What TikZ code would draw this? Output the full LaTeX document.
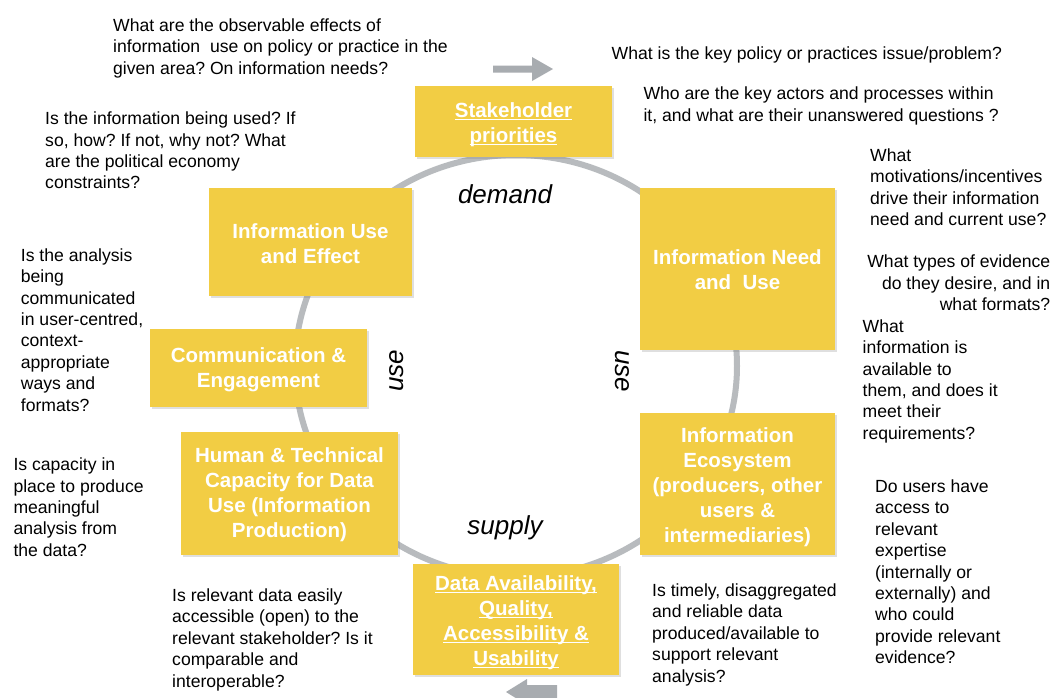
\documentclass[tikz,border=0pt]{standalone}
\usepackage{fontspec}
\setmainfont{Liberation Sans}
\usetikzlibrary{shadows}
\frenchspacing
\newcommand{\myul}[1]{\leavevmode\setbox0\hbox{#1}\rlap{\rule[-3pt]{\wd0}{1.3pt}}\box0}
\definecolor{boxyellow}{RGB}{242,205,68}
\definecolor{ringgray}{RGB}{184,187,190}
\definecolor{arrowgray}{RGB}{168,172,176}
\tikzset{
  box/.style={fill=boxyellow, draw=none, inner sep=0pt,
    drop shadow={opacity=0.25, shadow xshift=1.5pt, shadow yshift=-2pt}},
  boxtext/.style={text=white, align=center, inner sep=0pt,
    font=\bfseries\fontsize{20.5}{25}\selectfont},
  qtext/.style={anchor=north west, align=left, inner sep=0pt, text=black,
    font=\fontsize{17.6}{21.4}\selectfont},
  qtextr/.style={anchor=north east, align=right, inner sep=0pt, text=black,
    font=\fontsize{17.6}{21.4}\selectfont},
  flowlabel/.style={inner sep=0pt, font=\itshape\fontsize{26}{30}\selectfont},
  ring/.style={draw=ringgray, line width=6pt},
  bigarrow/.style={fill=arrowgray, draw=none}
}
\begin{document}
\begin{tikzpicture}[x=1pt,y=-1pt]
\useasboundingbox (0,0) rectangle (1053,697);
\clip (0,0) rectangle (1053,697);
\fill[white] (0,0) rectangle (1053,697);

% ring
\draw[ring] (516,366) ellipse [x radius=221pt, y radius=211pt];

% arrows
\fill[bigarrow] (493,65.5) -- (532,65.5) -- (532,57) -- (553,69) -- (532,81) -- (532,72.5) -- (493,72.5) -- cycle;
\fill[bigarrow] (557,685) -- (527,685) -- (527,679) -- (506,692) -- (527,705) -- (527,699) -- (557,699) -- cycle;

% boxes
\node[box, minimum width=197pt, minimum height=71pt] (stake) at (513.5,121.5) {};
\node[boxtext] (staket) at (513.5,124.5) {\myul{Stakeholder}\\\myul{priorities}};
\node[box, minimum width=203pt, minimum height=108pt] (infouse) at (310.5,242) {};
\node[boxtext] (infouset) at (310.5,243.5) {Information Use\\and Effect};
\node[box, minimum width=195pt, minimum height=162pt] (infoneed) at (737.5,269) {};
\node[boxtext] (infoneedt) at (737.5,269.5) {Information Need\\and~ Use};
\node[box, minimum width=217pt, minimum height=78pt] (comm) at (258.5,368) {};
\node[boxtext] (commt) at (258.5,370) {Communication \&\\Engagement};
\node[box, minimum width=217pt, minimum height=123pt] (human) at (289.5,493.5) {};
\node[boxtext] (humant) at (289.5,494.5) {Human \& Technical\\Capacity for Data\\Use (Information\\Production)};
\node[box, minimum width=195pt, minimum height=142pt] (eco) at (737.5,484) {};
\node[boxtext] (ecot) at (737.5,487) {Information\\Ecosystem\\(producers, other\\users \&\\intermediaries)};
\node[box, minimum width=206pt, minimum height=111pt] (data) at (516,619.5) {};
\node[boxtext] (datat) at (516,622.5) {\myul{Data Availability,}\\\myul{Quality,}\\\myul{Accessibility \&}\\\myul{Usability}};

% flow labels
\node[flowlabel, anchor=base] (demand) at (505,203) {demand};
\node[flowlabel, anchor=base] (supply) at (505,534) {supply};
\node[flowlabel, rotate=90] (useL) at (396.5,371) {use};
\node[flowlabel, rotate=-90] (useR) at (622.5,371) {use};

% questions
\node[qtext] (q1) at (113,18.3) {What are the observable effects of\\information~ use on policy or practice in the\\given area? On information needs?};
\node[qtext] (q2) at (45,111.7) {Is the information being used? If\\so, how? If not, why not? What\\are the political economy\\constraints?};
\node[qtext] (q3) at (611.5,46.7) {What is the key policy or practices issue/problem?};
\node[qtext] (q4) at (643.3,86.7) {Who are the key actors and processes within\\it, and what are their unanswered questions ?};
\node[qtext] (q5) at (870,148.3) {What\\motivations/incentives\\drive their information\\need and current use?};
\node[qtextr] (q6) at (1050.5,255) {What types of evidence\\do they desire, and in\\what formats?};
\node[qtext] (q7) at (862.5,319.3) {What\\information is\\available to\\them, and does it\\meet their\\requirements?};
\node[qtext] (q8) at (875,479.5) {Do users have\\access to\\relevant\\expertise\\(internally or\\externally) and\\who could\\provide relevant\\evidence?};
\node[qtext] (q9) at (652,583.5) {Is timely, disaggregated\\and reliable data\\produced/available to\\support relevant\\analysis?};
\node[qtext] (q10) at (172,588.5) {Is relevant data easily\\accessible (open) to the\\relevant stakeholder? Is it\\comparable and\\interoperable?};
\node[qtext] (q11) at (13.3,457.7) {Is capacity in\\place to produce\\meaningful\\analysis from\\the data?};
\node[qtext] (q12) at (20.7,248.3) {Is the analysis\\being\\communicated\\in user-centred,\\context-\\appropriate\\ways and\\formats?};
\end{tikzpicture}
\end{document}
